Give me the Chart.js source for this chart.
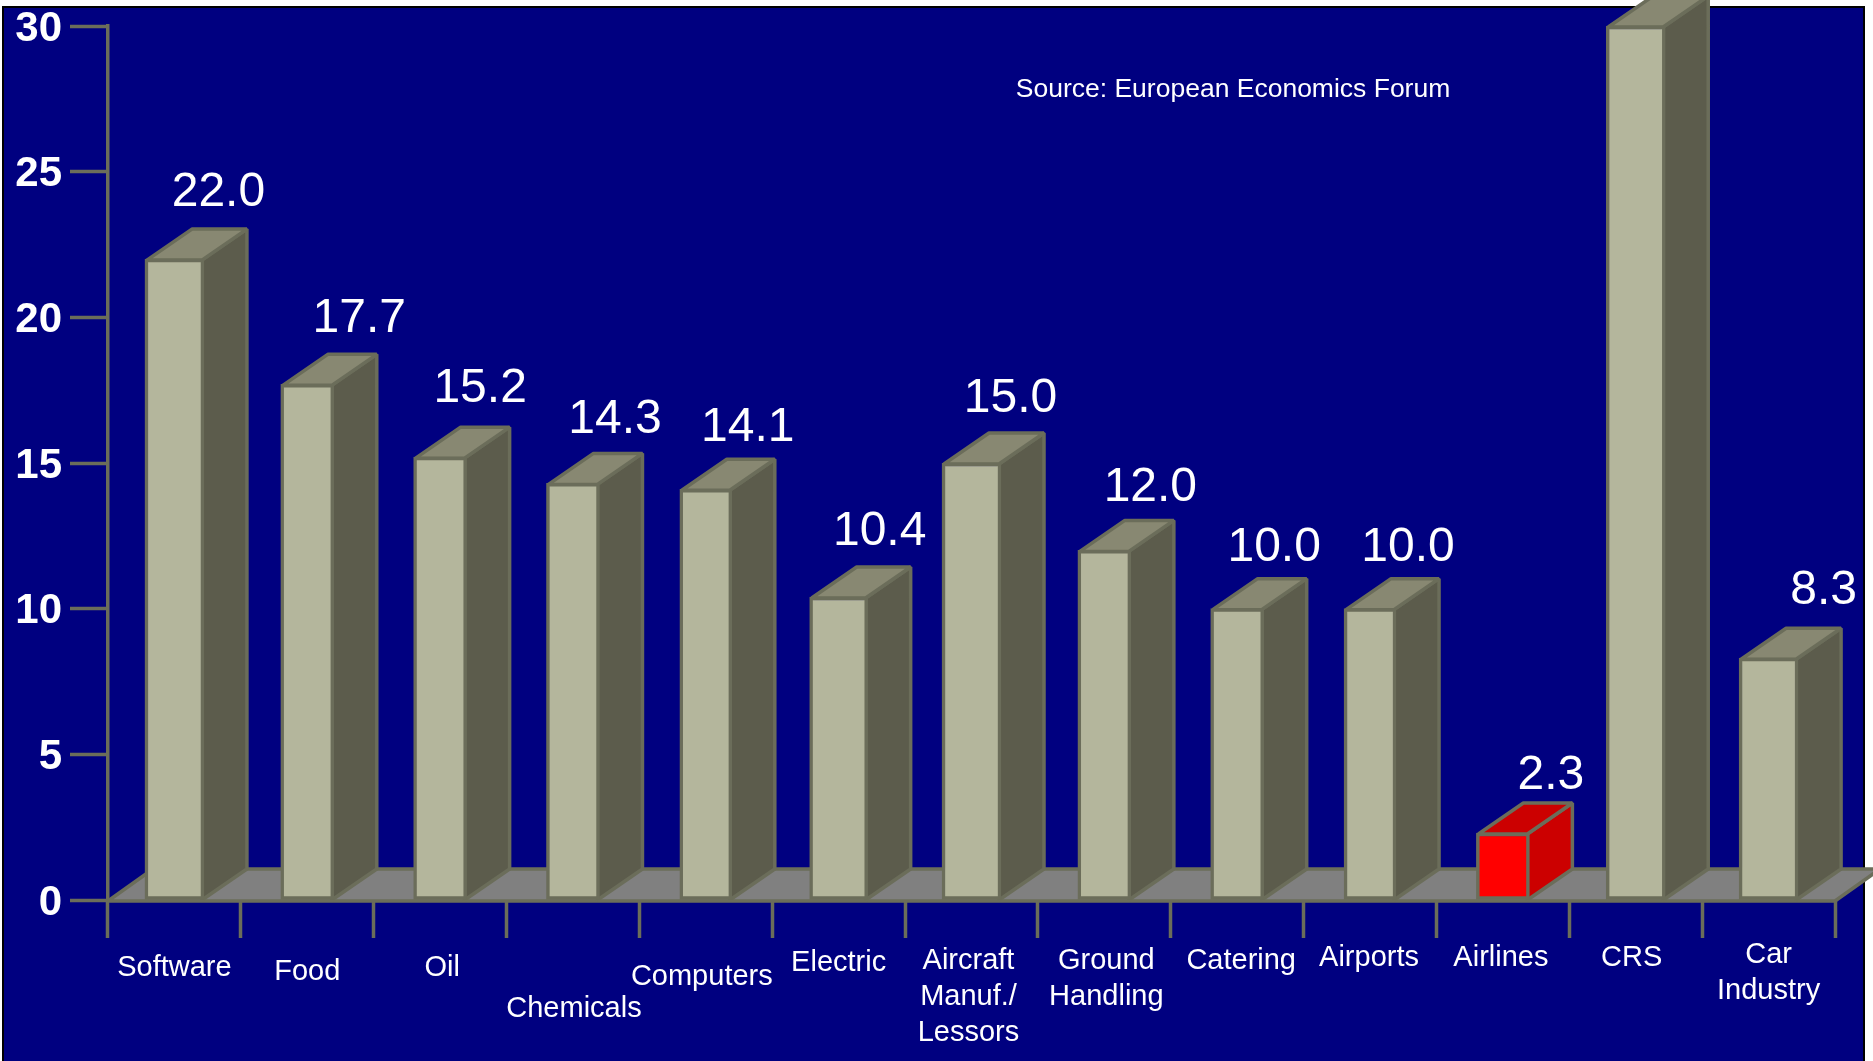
<!DOCTYPE html>
<html>
<head>
<meta charset="utf-8">
<title>Operating margins by industry</title>
<script src="https://cdn.jsdelivr.net/npm/chart.js@4/dist/chart.umd.min.js"></script>
<style>
  html, body { margin: 0; background: #fff; overflow: hidden; }
  #panel {
    position: absolute; left: 2px; top: 6px; width: 1859px; height: 1060px;
    background: #000080; border: 2px solid #000;
  }
  #chart { position: absolute; left: 0; top: 0; }
</style>
</head>
<body>
<div id="panel"></div>
<canvas id="chart" width="1873" height="1061"></canvas>
<script>
const categories = ['Software', 'Food', 'Oil', 'Chemicals', 'Computers', 'Electric',
  ['Aircraft', 'Manuf./', 'Lessors'], ['Ground', 'Handling'], 'Catering', 'Airports',
  'Airlines', 'CRS', ['Car', 'Industry']];
const values = [22.0, 17.7, 15.2, 14.3, 14.1, 10.4, 15.0, 12.0, 10.0, 10.0, 2.3, 30, 8.3];
const yTicks = [0, 5, 10, 15, 20, 25, 30];
const sourceNote = 'Source: European Economics Forum';

// CRS runs off the top of the axis, so it gets no value label
const unlabelled = ['CRS'];
const highlighted = ['Airlines'];

// Bars were placed by hand: widths differ a little and labels are staggered
const barWidths = [59, 53, 53, 53, 52, 58, 59, 53, 53, 52, 53, 59, 59];
const valueShiftX = [44, 52, 40, 42, 42, 41, 39, 46, 37, 38, 48, 0, 55];
const valueLift = [53, 52, 55, 50, 48, 52, 51, 49, 48, 48, 44, 0, 54];
const nameShiftX = [0, 0, 2, 1, -4, 0, -3, 2, 4, -1, -2, -4, 0];
const nameDrop = [68, 72, 68, 109, 77, 63, 61, 61, 61, 58, 58, 58, 55];

const fontFamily = '"Liberation Sans", Arial, sans-serif';
const lineColor = '#6b6d5a';
const lineWidth = 3.5;
const floorColor = '#808080';
const plainColors = { face: '#b4b69c', side: '#5c5c4c', top: '#888872' };
const hotColors = { face: '#ff0000', side: '#cc0000', top: '#cc0000' };
const depthX = 45;
const depthY = 31;

Chart.defaults.font.family = fontFamily;

const isHot = i => highlighted.includes(categories[i]);

function polygon(ctx, points, fill) {
  ctx.beginPath();
  points.forEach(([x, y], i) => (i ? ctx.lineTo(x, y) : ctx.moveTo(x, y)));
  ctx.closePath();
  ctx.fillStyle = fill;
  ctx.fill();
  ctx.stroke();
}

const bars3d = {
  id: 'bars3d',
  afterDatasetsUpdate(chart) {
    chart.getDatasetMeta(0).data.forEach((bar, i) => { bar.width = barWidths[i]; });
  },
  // Floor and the receding faces go underneath the regular bars
  beforeDatasetsDraw(chart) {
    const { ctx, chartArea, scales } = chart;
    const base = scales.y.getPixelForValue(0);
    ctx.save();
    ctx.strokeStyle = lineColor;
    ctx.lineWidth = lineWidth;
    ctx.lineJoin = 'bevel';
    polygon(ctx, [
      [chartArea.left, base + 1],
      [chartArea.left + depthX, base - depthY],
      [chartArea.right + depthX, base - depthY],
      [chartArea.right, base + 1]
    ], floorColor);

    chart.getDatasetMeta(0).data.forEach((bar, i) => {
      const colors = isHot(i) ? hotColors : plainColors;
      const left = bar.x - bar.width / 2 + 2;
      const right = bar.x + bar.width / 2 - 2;
      const top = bar.y + 1;
      polygon(ctx, [
        [right, top], [right + depthX, top - depthY],
        [right + depthX, base - depthY], [right, base]
      ], colors.side);
      polygon(ctx, [
        [left, top], [left + depthX, top - depthY],
        [right + depthX, top - depthY], [right, top]
      ], colors.top);
    });
    ctx.restore();
  },
  afterDatasetsDraw(chart) {
    const { ctx, scales } = chart;
    const base = scales.y.getPixelForValue(0);
    ctx.save();
    ctx.fillStyle = '#fff';
    ctx.textAlign = 'center';

    // Value labels float above each bar
    ctx.font = `48px ${fontFamily}`;
    ctx.textBaseline = 'alphabetic';
    chart.getDatasetMeta(0).data.forEach((bar, i) => {
      if (unlabelled.includes(categories[i])) return;
      ctx.fillText(values[i].toFixed(1), bar.x + valueShiftX[i], bar.y - valueLift[i]);
    });

    // Category names sit at staggered heights under the axis
    ctx.font = `29px ${fontFamily}`;
    ctx.textBaseline = 'middle';
    categories.forEach((name, i) => {
      const x = scales.x.getPixelForTick(i) + nameShiftX[i];
      [].concat(name).forEach((line, n) => {
        ctx.fillText(line, x, base + nameDrop[i] + n * 36);
      });
    });

    ctx.font = `26.5px ${fontFamily}`;
    ctx.textBaseline = 'alphabetic';
    ctx.fillText(sourceNote, 1233, 97);
    ctx.restore();
  }
};

new Chart(document.getElementById('chart').getContext('2d'), {
  type: 'bar',
  data: {
    labels: categories,
    datasets: [{
      data: values,
      backgroundColor: values.map((v, i) => (isHot(i) ? hotColors.face : plainColors.face)),
      borderColor: lineColor,
      borderWidth: lineWidth,
      borderSkipped: false,
      barThickness: 55,
      clip: false
    }]
  },
  options: {
    responsive: false,
    animation: false,
    devicePixelRatio: 1,
    layout: { padding: { top: 26, right: 38, left: 0, bottom: 0 } },
    plugins: { legend: { display: false }, tooltip: { enabled: false } },
    scales: {
      x: {
        afterFit: scale => { scale.height = 161; },
        border: { display: false },
        grid: { drawOnChartArea: false, tickLength: 38, tickWidth: lineWidth, tickColor: lineColor },
        ticks: { display: false }
      },
      y: {
        min: 0,
        max: 30,
        afterFit: scale => {
          scale.width = 108;
          // keep the top tick label from pushing the plot area down
          scale.paddingTop = 0;
          scale.paddingBottom = 0;
        },
        afterBuildTicks: scale => { scale.ticks = yTicks.map(value => ({ value })); },
        border: { color: lineColor, width: lineWidth },
        grid: { drawOnChartArea: false, tickLength: 38, tickWidth: lineWidth, tickColor: lineColor },
        ticks: {
          padding: 8,
          labelOffset: 3,
          color: '#fff',
          font: { size: 42, weight: 'bold' }
        }
      }
    }
  },
  plugins: [bars3d]
});
</script>
</body>
</html>
